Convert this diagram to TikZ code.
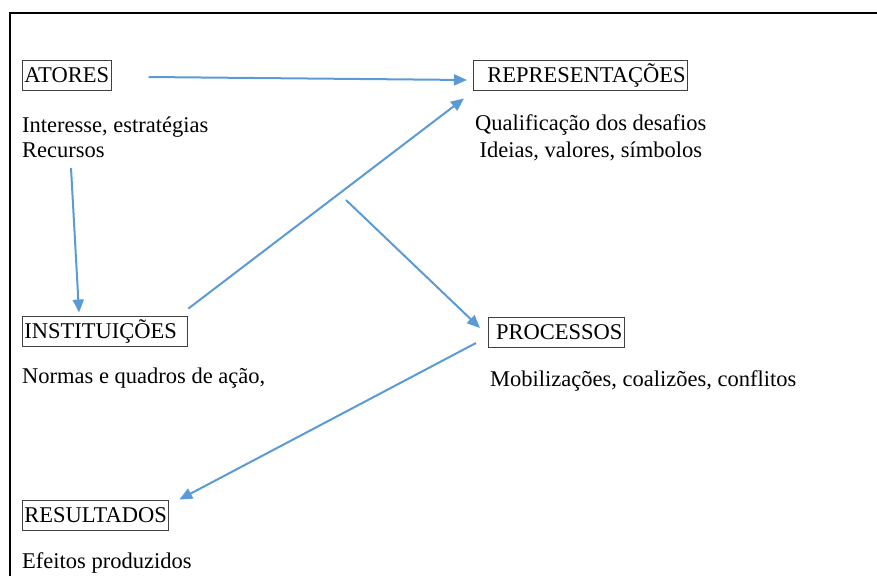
\documentclass[tikz,border=0pt]{standalone}
\usepackage{fontspec}
\setmainfont{Liberation Serif}
\newfontfamily\serifa{Liberation Serif}
\usetikzlibrary{arrows.meta}
\definecolor{azulseta}{RGB}{91,155,213}
\begin{document}
\begin{tikzpicture}[x=1pt,y=-1pt,
  caixa/.style={draw=black!75,line width=0.9pt,inner xsep=2pt,inner ysep=3pt,
    text height=19pt,text depth=5pt,anchor=west,font=\serifa\fontsize{22.5}{25}\selectfont},
  texto/.style={inner sep=0pt,anchor=base west,font=\serifa\fontsize{22.5}{25}\selectfont},
  seta/.style={draw=azulseta,line width=2pt,-{Triangle[length=13pt,width=11pt]}}]
          	\useasboundingbox (0,0) rectangle (877,576);
          	% moldura
          	\draw [line width=2.5pt] (10,576) to (10,13) to (877,13);
          	% caixas
          	\node [caixa] (atores) at (22,75) {ATORES};
          	\node [caixa] (rep) at (473,75) {\hspace*{12pt}REPRESENTAÇÕES};
          	\node [caixa] (inst) at (22,331) {INSTITUIÇÕES\hspace*{9pt}};
          	\node [caixa] (proc) at (488,332) {\ PROCESSOS};
          	\node [caixa] (res) at (22,515) {RESULTADOS};
          	% textos (base = ultima linha)
          	\node [texto,align=left] (atorestxt) at (22,157) {Interesse, estratégias\\Recursos};
          	\node [texto,align=center] (reptxt) at (475,157) {Qualificação dos desafios\\[2pt]Ideias, valores, símbolos};
          	\node [texto] (insttxt) at (22,383) {Normas e quadros de ação,};
          	\node [texto] (proctxt) at (490,386) {Mobilizações, coalizões, conflitos};
          	\node [texto] (restxt) at (22,568) {Efeitos produzidos};
          	% setas
          	\coordinate (recursos) at (71,168);
          	\coordinate (meio) at (346,200);
          	\draw [seta] ([xshift=37pt,yshift=-2pt]atores.east) to ([xshift=-6pt,yshift=-5pt]rep.west);
          	\draw [seta] (recursos) to ([xshift=57pt,yshift=3pt]inst.north west);
          	\draw [seta] ([yshift=7pt]inst.north east) to ([xshift=-9pt,yshift=-8pt]rep.south west);
          	\draw [seta] (meio) to ([xshift=-8pt,yshift=4pt]proc.west);
          	\draw [seta] ([xshift=-12pt,yshift=-11pt]proc.west) to ([xshift=10pt]res.north east);
\end{tikzpicture}
\end{document}
